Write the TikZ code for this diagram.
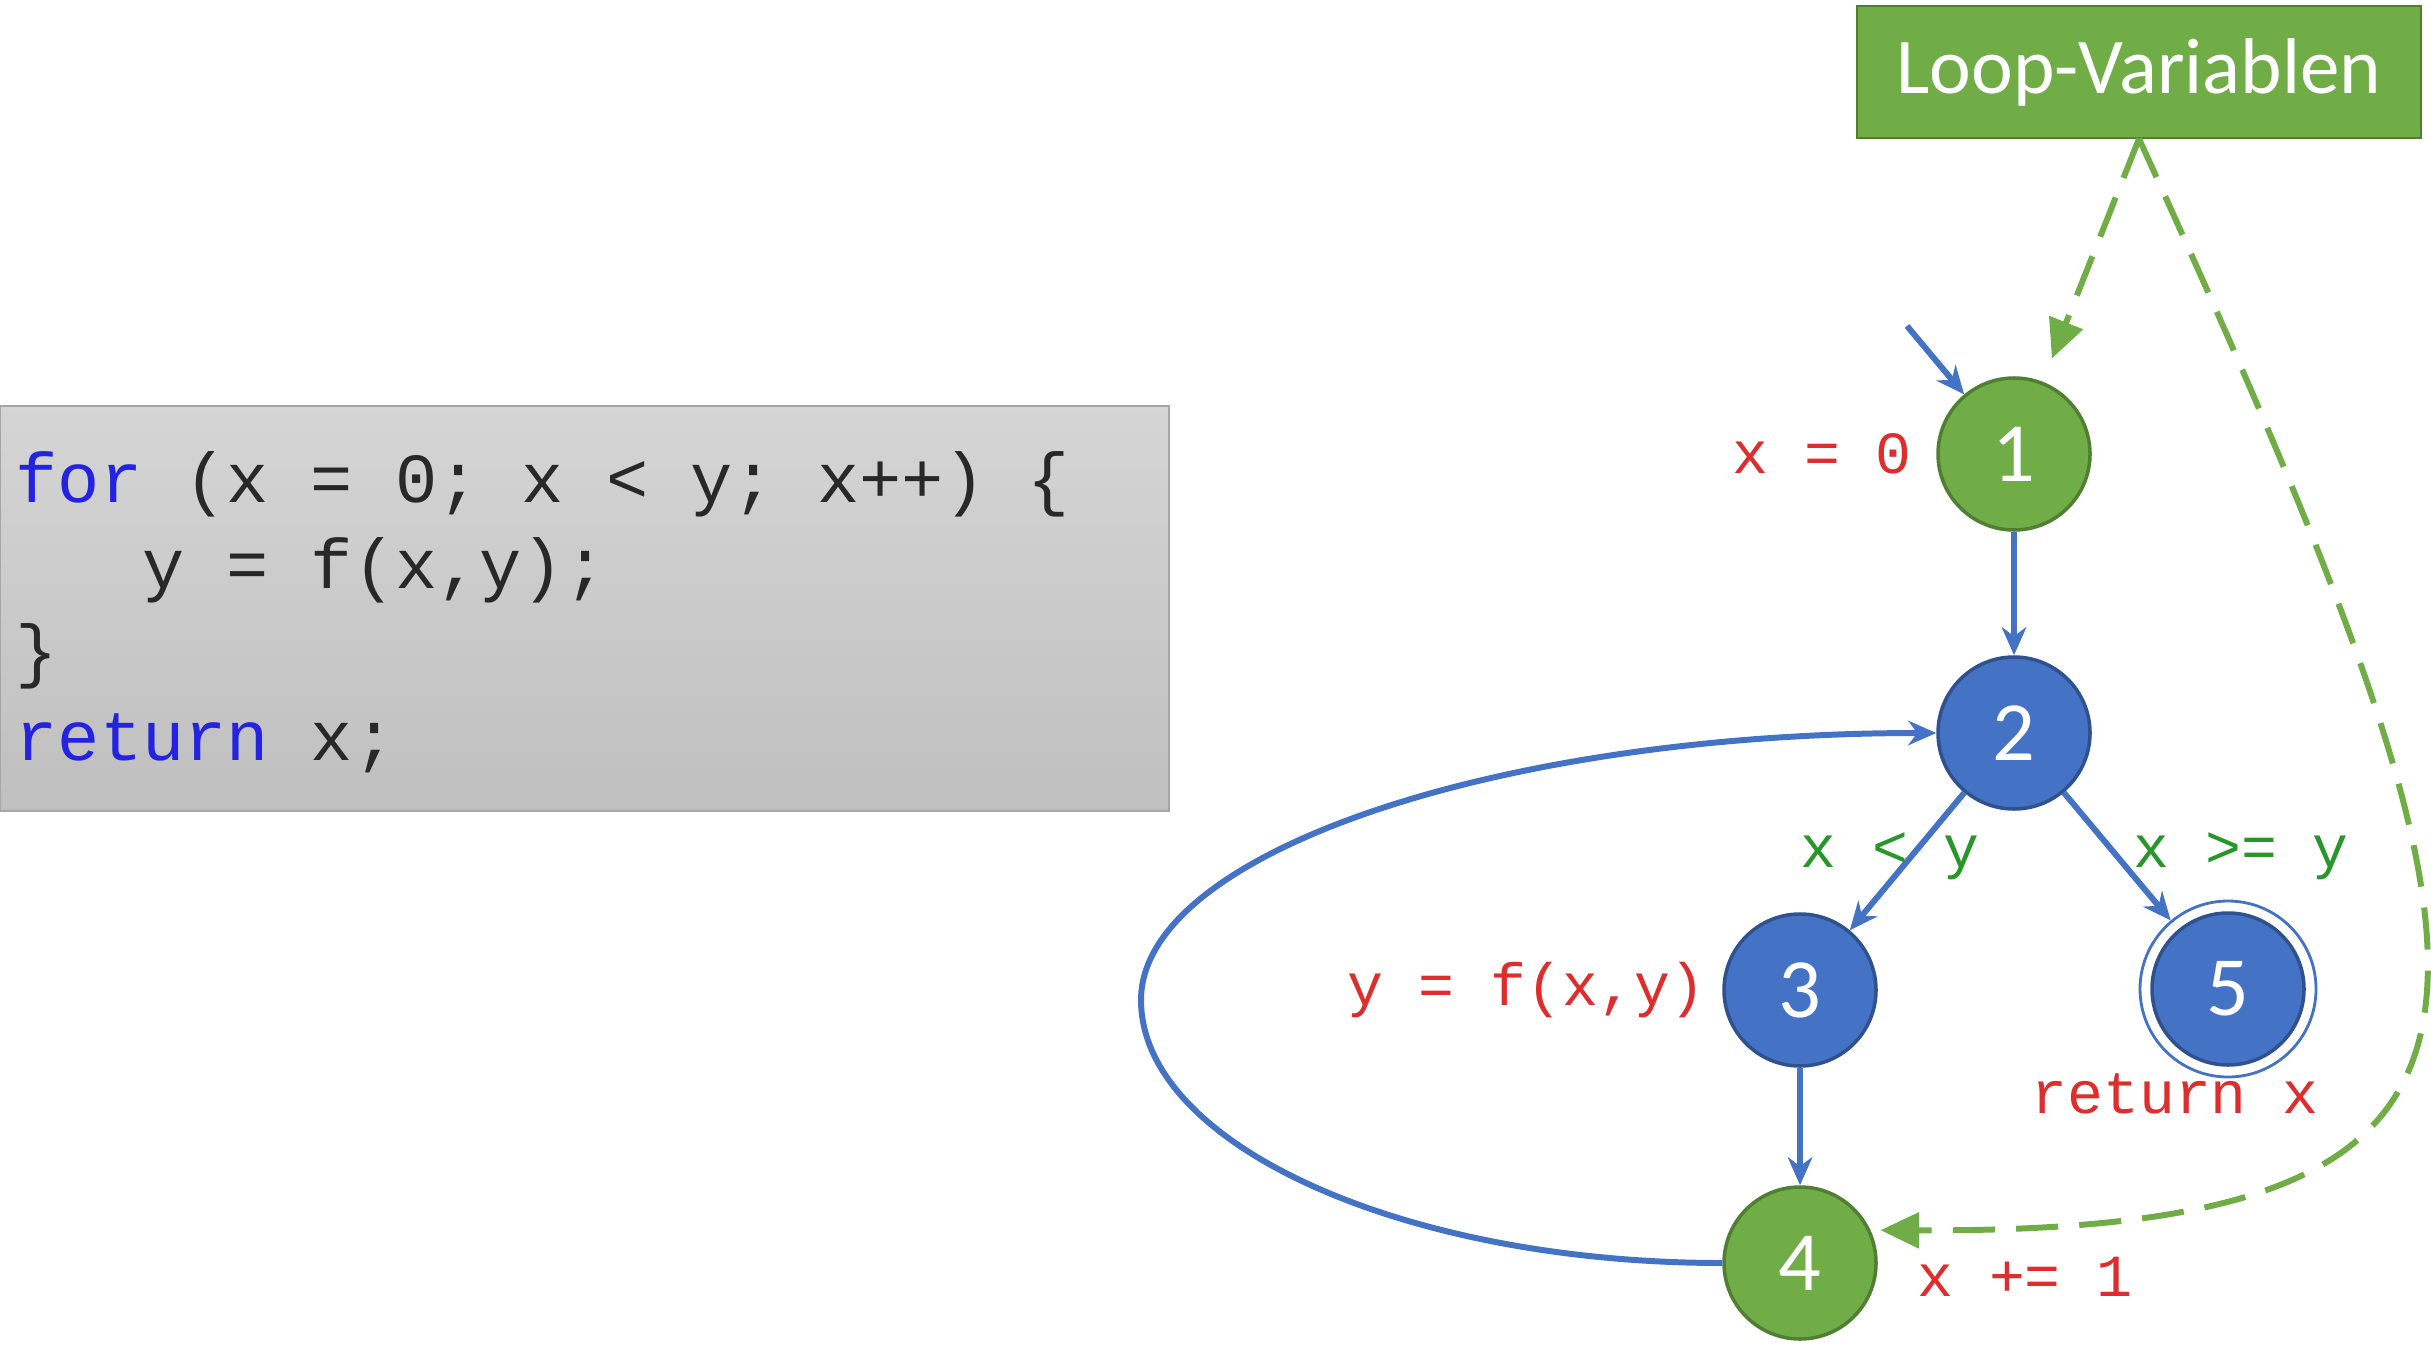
\documentclass[tikz,border=0pt]{standalone}
\usepackage{fontspec}
\setmainfont{Carlito}
\setmonofont{Liberation Mono}
\usepackage{tikz}
\usetikzlibrary{arrows.meta,positioning}
\definecolor{cfggreen}{RGB}{112,173,71}
\definecolor{cfggreendark}{RGB}{80,126,50}
\definecolor{cfgblue}{RGB}{68,114,196}
\definecolor{cfgbluedark}{RGB}{47,82,143}
\definecolor{lblred}{RGB}{222,45,45}
\definecolor{lblgreen}{RGB}{40,150,40}
\definecolor{kwblue}{RGB}{35,35,225}
\definecolor{codegray}{RGB}{40,40,40}

\begin{document}
\begin{tikzpicture}[
  greennode/.style={circle,fill=cfggreen,draw=cfggreendark,line width=1pt,minimum size=1.52cm,inner sep=0pt,text=white,font=\fontsize{24}{24}\selectfont},
  bluenode/.style={greennode,fill=cfgblue,draw=cfgbluedark},
  flow/.style={->,cfgblue,line width=1.7pt},
  varflow/.style={-{Triangle[length=11pt,width=10pt]},cfggreen,line width=1.7pt,dash pattern=on 12pt off 6pt},
  redlbl/.style={text=lblred,font=\ttfamily\fontsize{17}{17}\selectfont},
  greenlbl/.style={text=lblgreen,font=\ttfamily\fontsize{17}{17}\selectfont},
  codeline/.style={anchor=base west,inner sep=0pt,text=codegray,font=\ttfamily\fontsize{20}{20}\selectfont},
  >={Stealth[length=8pt,width=7pt]}
]
  \useasboundingbox (0,0) rectangle (24.31,13.47);

  %code
  \draw[draw=gray!70,top color=gray!33,bottom color=gray!50] (0,5.36) rectangle (11.69,9.41);
  \node[codeline] (cl1) at (0.15,8.45) {\textcolor{kwblue}{for} (x = 0; x < y; x++) \{};
  \node[codeline] (cl2) at (0.15,7.59) {\phantom{xxx}y = f(x,y);};
  \node[codeline] (cl3) at (0.15,6.73) {\}};
  \node[codeline] (cl4) at (0.15,5.87) {\textcolor{kwblue}{return} x;};

  %loop variables
  \node[draw=cfggreendark,fill=cfggreen,text=white,minimum width=5.64cm,minimum height=1.32cm,font=\fontsize{22.5}{22.5}\selectfont] (loop) at (21.39,12.75) {Loop-Variablen};

  %cfg
  \node[greennode] (n1) at (20.14,8.93) {1};
  \node[bluenode] (n2) at (20.14,6.14) {2};
  \node[bluenode] (n3) at (18.00,3.57) {3};
  \node[bluenode] (n5) at (22.28,3.58) {5};
  \node[greennode] (n4) at (18.00,0.84) {4};
  \node[circle,draw=cfgblue,line width=0.8pt,minimum size=1.76cm] (n5ring) at (n5) {};

  \coordinate (start) at (19.07,10.21);
  \draw[flow] (start) -- (n1);
  \draw[flow] (n1) -- (n2);
  \draw[flow] (n2) -- (n3);
  \draw[flow] (n2) -- (n5ring);
  \draw[flow] (n3) -- (n4);
  \coordinate (loopleft) at (11.41,3.47);
  \draw[flow] (n4.west) .. controls (14.02,0.84) and (11.41,2.03) .. (loopleft)
    .. controls (11.41,4.94) and (14.98,6.14) .. (n2.west);

  \draw[varflow,shorten >=0.25cm] (loop.south) -- (n1);
  \draw[varflow,shorten >=0.1cm] (loop.south) .. controls (25.27,3.55) and (25.89,1.14) .. (n4.25);

  %labels
  \node[redlbl,left=0.12cm of n1] (lx0) {x = 0};
  \node[redlbl,left=0.04cm of n3] (ly) {y = f(x,y)};
  \node[greenlbl,anchor=base] (llt) at (18.90,4.80) {x < y};
  \node[greenlbl,anchor=base] (lge) at (22.41,4.80) {x >= y};
  \node[redlbl,anchor=base] (lret) at (21.75,2.34) {return x};
  \node[redlbl,anchor=base west] (linc) at (19.05,0.51) {x += 1};
\end{tikzpicture}
\end{document}
